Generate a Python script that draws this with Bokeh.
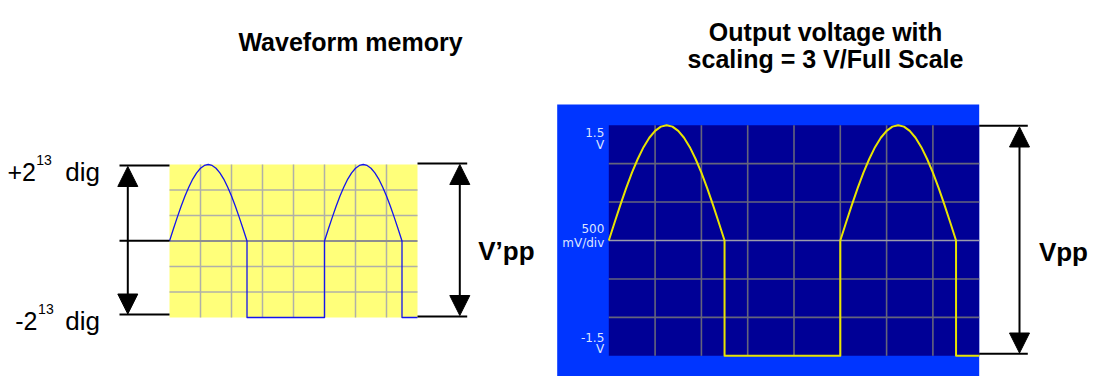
from bokeh.plotting import figure
from bokeh.models import Range1d, Arrow, NormalHead, ColumnDataSource
from bokeh.core.properties import value
from bokeh.embed import file_html
from bokeh.resources import INLINE

# ---------------- data ----------------
# one positive half-wave of the stored waveform
hump_div = [0.0, 0.125, 0.25, 0.375, 0.5, 0.625, 0.75, 0.875, 1.0, 1.125, 1.25,
            1.375, 1.5, 1.625, 1.75, 1.875, 2.0, 2.125, 2.25, 2.375, 2.5]
hump_code = [0, 1280, 2530, 3720, 4820, 5790, 6630, 7300, 7790, 8090, 8192,
             8090, 7790, 7300, 6630, 5790, 4820, 3720, 2530, 1280, 0]
# full record (8 divisions): hump, hold at -2^13, hump, hold at -2^13
wave_div = hump_div + [2.5, 5.0] + [t + 5.0 for t in hump_div] + [7.5, 8.0]
wave_code = hump_code + [-8192, -8192] + hump_code + [-8192, -8192]

CODE_FULL = 8192            # 2^13
FULL_SCALE_V = 3.0          # scaling = 3 V / full scale
wave_volt = [c * FULL_SCALE_V / (2 * CODE_FULL) for c in wave_code]

N_XDIV = 8
N_YDIV = 6
scope_tick_vals = [1.5, 1.5, 0.0, 0.0, -1.5, -1.5]
scope_tick_text = ["1.5", "V", "500", "mV/div", "-1.5", "V"]

title_left = "Waveform memory"
title_right = ["Output voltage with", "scaling = 3 V/Full Scale"]

# ---------------- layout (reference pixel space) ----------------
W, H = 1097, 376
X0, X1 = 0, W              # canvas left/right in picture pixels
YB, YT = H, 0              # canvas bottom/top in picture pixels

def mapped_range(d0, d1, p0, p1, lo, hi):
    k = (d1 - d0) / (p1 - p0)
    return Range1d(start=d0 + (lo - p0) * k, end=d0 + (hi - p0) * k)

# memory panel rectangle
MX0, MX1, MY_TOP, MY_BOT = 169.0, 417.0, 164.0, 317.0
# output scope rectangle
SX0, SX1, SY_TOP, SY_BOT = 608.3, 978.7, 124.7, 355.3

p = figure(width=W, height=H, output_backend="svg", toolbar_location=None,
           x_range=Range1d(X0, X1), y_range=Range1d(YB, YT),
           x_axis_location=None, y_axis_location=None, min_border=0,
           outline_line_color=None, background_fill_color="white",
           border_fill_color="white")
p.grid.visible = False

p.extra_x_ranges = {
    "mem_x": mapped_range(0, N_XDIV, MX0, MX1, X0, X1),
    "sc_x": mapped_range(0, N_XDIV, SX0, SX1, X0, X1),
}
p.extra_y_ranges = {
    "mem_y": mapped_range(-CODE_FULL, CODE_FULL, MY_BOT, MY_TOP, YB, YT),
    "sc_y": mapped_range(-1.5, 1.5, SY_BOT, SY_TOP, YB, YT),
}

# ---------------- memory panel ----------------
p.quad(left=[0], right=[N_XDIV], bottom=[-CODE_FULL], top=[CODE_FULL],
       fill_color="#FFFF7A", line_color=None,
       x_range_name="mem_x", y_range_name="mem_y")
vx = list(range(1, N_XDIV))
p.segment(x0=vx, x1=vx, y0=[-CODE_FULL] * len(vx), y1=[CODE_FULL] * len(vx),
          line_color="#B0B0A8", line_width=1.5,
          x_range_name="mem_x", y_range_name="mem_y")
hy = [CODE_FULL * (2 * k / N_YDIV - 1) for k in range(1, N_YDIV) if 2 * k != N_YDIV]
p.segment(x0=[0] * len(hy), x1=[N_XDIV] * len(hy), y0=hy, y1=hy,
          line_color="#B0B0A8", line_width=1.5,
          x_range_name="mem_x", y_range_name="mem_y")
p.segment(x0=[0], x1=[N_XDIV], y0=[0], y1=[0], line_color="#8E8E8E", line_width=2,
          x_range_name="mem_x", y_range_name="mem_y")
p.line(wave_div, wave_code, line_color="#1414EE", line_width=1.3, line_join="round",
       x_range_name="mem_x", y_range_name="mem_y")

# ---------------- output scope ----------------
p.quad(left=[556.7], right=[978.7], bottom=[376], top=[104],
       fill_color="#0035FF", line_color=None)
p.quad(left=[0], right=[N_XDIV], bottom=[-1.5], top=[1.5],
       fill_color="#000096", line_color=None,
       x_range_name="sc_x", y_range_name="sc_y")
p.segment(x0=vx, x1=vx, y0=[-1.5] * len(vx), y1=[1.5] * len(vx),
          line_color="#64647C", line_width=1.6,
          x_range_name="sc_x", y_range_name="sc_y")
hv = [1.5 * (2 * k / N_YDIV - 1) for k in range(1, N_YDIV) if 2 * k != N_YDIV]
p.segment(x0=[0] * len(hv), x1=[N_XDIV] * len(hv), y0=hv, y1=hv,
          line_color="#64647C", line_width=1.6,
          x_range_name="sc_x", y_range_name="sc_y")
p.segment(x0=[0], x1=[N_XDIV], y0=[0], y1=[0], line_color="#9C9CAC", line_width=1.6,
          x_range_name="sc_x", y_range_name="sc_y")
p.line(wave_div, wave_volt, line_color="#E8E400", line_width=2, line_join="round",
       x_range_name="sc_x", y_range_name="sc_y")

tick_src = ColumnDataSource(dict(
    x=[0] * len(scope_tick_vals), y=scope_tick_vals, text=scope_tick_text,
    yoff=[7.0, 19.6, -11.7, 2.7, -18.6, -7.0]))
p.text(x="x", y="y", text="text", source=tick_src, x_offset=-4.5, y_offset="yoff",
       text_align="right", text_baseline="middle", text_color="#DCE4FF",
       text_font=value("DejaVu Sans"), text_font_size="12px",
       x_range_name="sc_x", y_range_name="sc_y")

# ---------------- dimension lines & arrows ----------------
BLACK = "black"
p.segment(x0=[119, 119, 119, 417, 417, 978.7, 978.7],
          x1=[169, 169, 169, 466.7, 466.7, 1027.3, 1027.3],
          y0=[165, 240.3, 314, 163, 316, 125.3, 353.3],
          y1=[165, 240.3, 314, 163, 316, 125.3, 353.3],
          line_color=BLACK, line_width=2)

def dbl_arrow(x, y_top, y_bot):
    p.add_layout(Arrow(start=NormalHead(size=20, fill_color=BLACK, line_color=BLACK),
                       end=NormalHead(size=20, fill_color=BLACK, line_color=BLACK),
                       x_start=x, y_start=y_top, x_end=x, y_end=y_bot,
                       line_color=BLACK, line_width=2))

dbl_arrow(127.3, 166, 313.5)
dbl_arrow(459.3, 164, 315)
dbl_arrow(1019, 126.5, 352.5)

# ---------------- texts ----------------
FONT = value("Liberation Sans")
p.text(x=[350], y=[41.5], text=[title_left], text_align="center",
       text_baseline="alphabetic", text_font=FONT, text_font_style="bold",
       text_font_size="25px", text_color=BLACK)
p.text(x=[825, 825], y=[31, 58.3], text=title_right, text_align="center",
       text_baseline="alphabetic", text_font=FONT, text_font_style="bold",
       text_font_size="25px", text_color=BLACK)

p.text(x=[35.5, 37.0], y=[171.7, 320], text=["+2", "-2"], text_align="right",
       text_baseline="alphabetic", text_font=FONT, text_font_size="25px",
       text_color=BLACK)
p.text(x=[35.8, 37.6], y=[159.5, 308.3], text=["13", "13"], text_align="left",
       text_baseline="alphabetic", text_font=FONT, text_font_size="14px",
       text_color=BLACK)
p.text(x=[99.5, 99.5], y=[171.7, 320], text=["dig", "dig"], text_align="right",
       text_baseline="alphabetic", text_font=FONT, text_font_size="26px",
       text_color=BLACK)

p.text(x=[477.7, 1038.4], y=[250, 251.7], text=["V\u2019pp", "Vpp"], text_align="left",
       text_baseline="alphabetic", text_font=FONT, text_font_style="bold",
       text_font_size="26px", text_color=BLACK)

open("out.html", "w").write(file_html(p, INLINE))
